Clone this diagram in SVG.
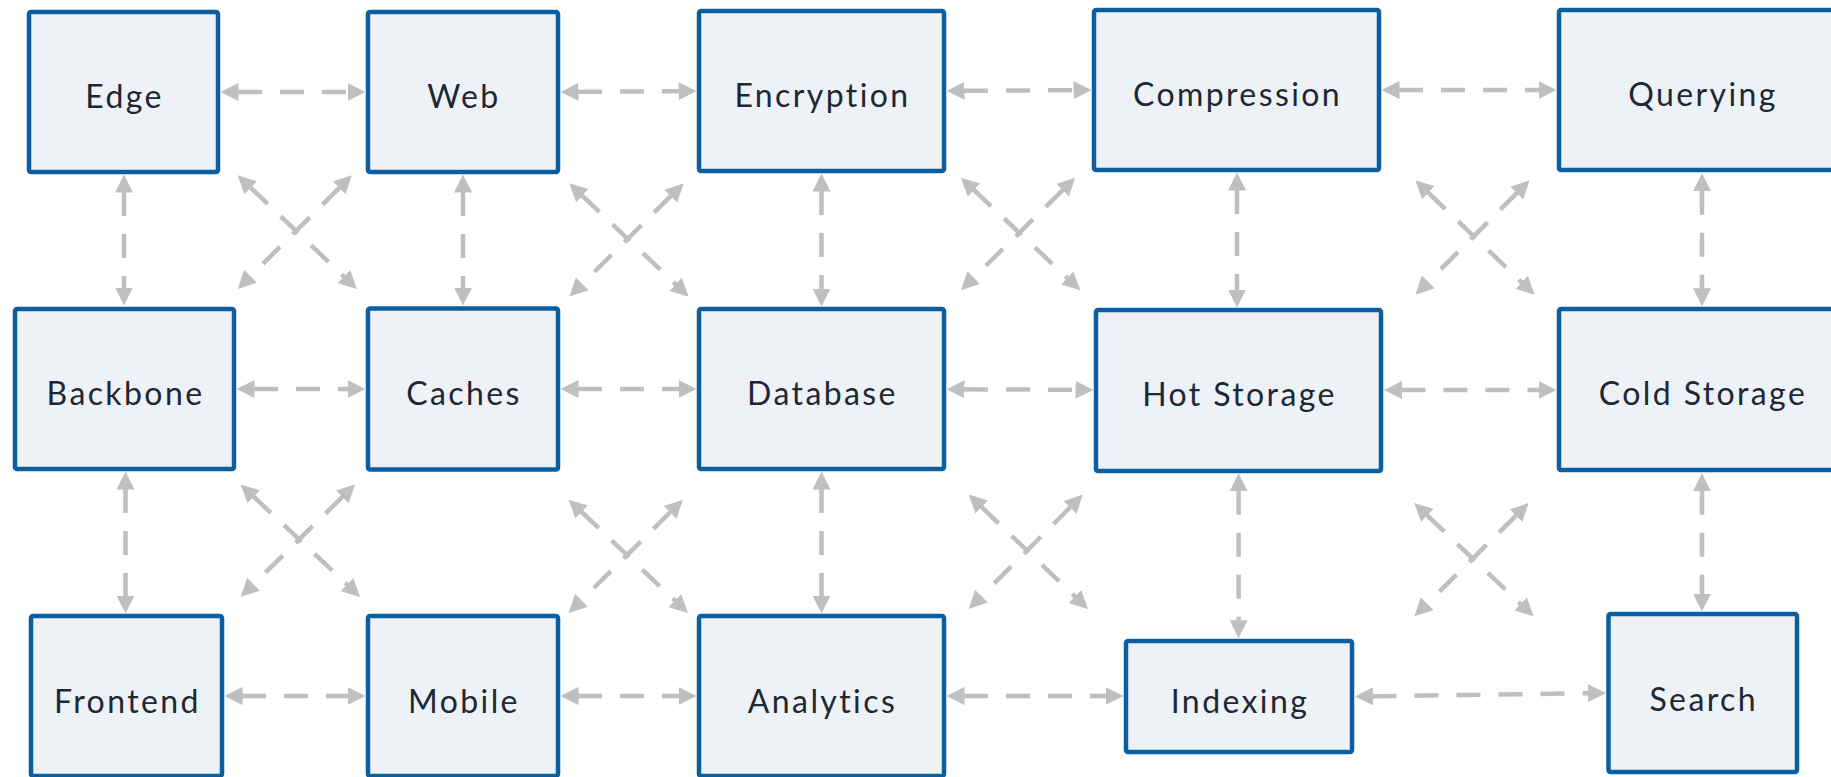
<svg xmlns="http://www.w3.org/2000/svg" width="1831" height="777" viewBox="0 0 1831 777">
  <defs>
    <style>
      .node rect { fill: #eef2f6; stroke: #0b5fa0; stroke-width: 4.5; }
      .node text { font-family: "Lato", "Liberation Sans", sans-serif; font-size: 32px; letter-spacing: 2.4px; fill: #1d2834; text-anchor: middle; }
      .links line { stroke: #bfbfbf; stroke-width: 4.5; stroke-dasharray: 24 18; fill: none; marker-start: url(#ah); marker-end: url(#ah); }
    </style>
    <marker id="ah" viewBox="0 0 18 18" markerWidth="18" markerHeight="18" refX="0.5" refY="9" orient="auto-start-reverse" markerUnits="userSpaceOnUse">
      <path d="M0,0 L18,9 L0,18 Z" fill="#bfbfbf"/>
    </marker>
  </defs>

  <rect width="1831" height="777" fill="#ffffff"/>

  <!-- connectors -->
  <g id="connectors" class="links">
    <!-- row 1 horizontals -->
    <line x1="238" y1="92" x2="348" y2="92"/>
    <line x1="578" y1="91.8" x2="679" y2="91.2"/>
    <line x1="964" y1="90.8" x2="1074" y2="90.2"/>
    <line x1="1399" y1="90" x2="1539" y2="90"/>
    <!-- row 2 horizontals -->
    <line x1="254" y1="389" x2="348" y2="389"/>
    <line x1="578" y1="389" x2="679" y2="389"/>
    <line x1="964" y1="389.3" x2="1076" y2="389.8"/>
    <line x1="1401.5" y1="390" x2="1539" y2="390"/>
    <!-- row 3 horizontals -->
    <line x1="242" y1="696" x2="348" y2="696"/>
    <line x1="578" y1="696" x2="679" y2="696"/>
    <line x1="964" y1="696" x2="1106" y2="696"/>
    <line x1="1372.5" y1="696.3" x2="1588.5" y2="693.2"/>
    <!-- verticals -->
    <line x1="124" y1="192" x2="124" y2="288"/>
    <line x1="125.5" y1="489" x2="125.5" y2="596"/>
    <line x1="463" y1="192" x2="463" y2="288"/>
    <line x1="821.5" y1="191" x2="821.5" y2="289"/>
    <line x1="821.5" y1="489" x2="821.5" y2="596"/>
    <line x1="1237" y1="190" x2="1237" y2="290"/>
    <line x1="1238.6" y1="490.7" x2="1238.6" y2="620.7"/>
    <line x1="1702" y1="190.7" x2="1702" y2="288.7"/>
    <line x1="1702" y1="490.7" x2="1702" y2="594"/>
    <!-- diagonal crossings, upper band -->
    <line x1="250.3" y1="187.4" x2="344.3" y2="276.9"/>
    <line x1="339.5" y1="187.7" x2="250.1" y2="276.6"/>
    <line x1="582.0" y1="195.4" x2="676.0" y2="284.6"/>
    <line x1="671.2" y1="195.7" x2="581.8" y2="284.3"/>
    <line x1="973.6" y1="189.7" x2="1067.6" y2="278.3"/>
    <line x1="1062.8" y1="190.0" x2="973.4" y2="278.0"/>
    <line x1="1428.0" y1="192.4" x2="1522.0" y2="282.6"/>
    <line x1="1517.2" y1="192.7" x2="1427.8" y2="282.3"/>
    <!-- diagonal crossings, lower band -->
    <line x1="253.4" y1="496.4" x2="347.4" y2="584.9"/>
    <line x1="342.6" y1="496.7" x2="253.2" y2="584.6"/>
    <line x1="581.3" y1="511.7" x2="675.3" y2="600.9"/>
    <line x1="670.5" y1="512.0" x2="581.1" y2="600.6"/>
    <line x1="981.3" y1="506.7" x2="1075.3" y2="596.9"/>
    <line x1="1070.5" y1="507.0" x2="981.1" y2="596.6"/>
    <line x1="1427.0" y1="515.1" x2="1521.0" y2="604.3"/>
    <line x1="1516.2" y1="515.4" x2="1426.8" y2="604.0"/>
  </g>

  <!-- nodes, row 1 -->
  <g id="edge" class="node"><rect x="29" y="12" width="189" height="160" rx="2"/><text x="124.5" y="108">Edge</text></g>
  <g id="web" class="node"><rect x="368" y="12" width="190" height="160" rx="2"/><text x="464" y="108">Web</text></g>
  <g id="encryption" class="node"><rect x="699" y="11" width="245" height="160" rx="2"/><text x="822.5" y="107">Encryption</text></g>
  <g id="compression" class="node"><rect x="1094" y="10" width="285" height="160" rx="2"/><text x="1237.5" y="106">Compression</text></g>
  <g id="querying" class="node"><rect x="1559" y="10" width="286" height="160" rx="2"/><text x="1703" y="106">Querying</text></g>

  <!-- nodes, row 2 -->
  <g id="backbone" class="node"><rect x="15" y="309" width="219" height="160" rx="2"/><text x="125.5" y="405">Backbone</text></g>
  <g id="caches" class="node"><rect x="368" y="308.5" width="190" height="161" rx="2"/><text x="464" y="405">Caches</text></g>
  <g id="database" class="node"><rect x="699" y="309" width="245" height="160" rx="2"/><text x="822.5" y="405">Database</text></g>
  <g id="hot-storage" class="node"><rect x="1096" y="310" width="285" height="161" rx="2"/><text x="1239.5" y="406">Hot Storage</text></g>
  <g id="cold-storage" class="node"><rect x="1559" y="309" width="286" height="161" rx="2"/><text x="1703" y="405">Cold Storage</text></g>

  <!-- nodes, row 3 -->
  <g id="frontend" class="node"><rect x="31" y="616" width="191" height="160" rx="2"/><text x="127.5" y="713">Frontend</text></g>
  <g id="mobile" class="node"><rect x="368" y="616" width="190" height="160" rx="2"/><text x="464" y="713">Mobile</text></g>
  <g id="analytics" class="node"><rect x="699" y="616" width="245" height="160" rx="2"/><text x="822.5" y="713">Analytics</text></g>
  <g id="indexing" class="node"><rect x="1126" y="641" width="226" height="111" rx="2"/><text x="1240" y="713">Indexing</text></g>
  <g id="search" class="node"><rect x="1608.5" y="614" width="188.5" height="158" rx="2"/><text x="1703.75" y="711">Search</text></g>
</svg>
